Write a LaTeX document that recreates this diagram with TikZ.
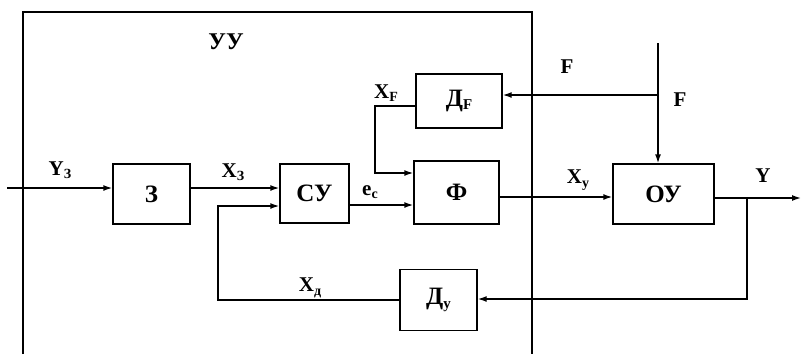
\documentclass[tikz,border=0pt]{standalone}
\usepackage{fontspec}
\setmainfont{Liberation Serif}
\usetikzlibrary{arrows.meta}
\newcommand{\lowidx}[1]{\raisebox{-0.35ex}{\fontsize{14}{14}\selectfont #1}}
\newcommand{\boxidx}[1]{\raisebox{-0.3ex}{\fontsize{15}{15}\selectfont #1}}
\begin{document}
\begin{tikzpicture}[x=1pt,y=-1pt,
  line width=1.4pt,
  blk/.style={draw, rectangle, inner sep=0pt, font=\fontsize{25}{25}\selectfont\bfseries},
  lbl/.style={inner sep=0pt, font=\fontsize{21}{21}\selectfont\bfseries},
  arr/.style={-{Latex[length=9pt,width=6pt]}}]
\useasboundingbox (0,0) rectangle (803,354);
% frame of УУ
\draw (23,354) -- (23,12) -- (532,12) -- (532,354);
% blocks
\node[blk, minimum width=77pt, minimum height=60pt] (Z) at (151.5,194) {З};
\node[blk, minimum width=69pt, minimum height=59pt] (SU) at (314.5,193.5) {СУ};
\node[blk, minimum width=86pt, minimum height=54pt] (DF) at (459,101) {Д\boxidx{F}};
\node[blk, minimum width=85pt, minimum height=63pt] (PHI) at (456.5,192.5) {Ф};
\node[blk, minimum width=101pt, minimum height=60pt] (OU) at (663.5,194) {ОУ};
\node[blk, minimum width=77pt, minimum height=61pt] (DY) at (438.5,300) {Д\boxidx{у}};
% coordinates
\coordinate (in) at (7,188);
\coordinate (fbc) at (218,206);
\coordinate (ecy) at (0,205);
\coordinate (xfa) at (375,106);
\coordinate (xfb) at (375,173);
\coordinate (xuy) at (0,197);
\coordinate (Ftop) at (658,43);
\coordinate (Fbr) at (658,95);
\coordinate (yy) at (0,198);
\coordinate (yout) at (801,198);
\coordinate (ybr) at (747,198);
\coordinate (ybot) at (747,299);
% connectors
\draw[arr] (in) -- (in -| Z.west);
\draw[arr] (Z.east |- in) -- (SU.west |- in);
\draw[arr] (DY.west) -| (fbc) -- (SU.west |- fbc);
\draw[arr] (SU.east |- ecy) -- (PHI.west |- ecy);
\draw[arr] (DF.west |- xfa) -- (xfa) -- (xfb) -- (PHI.west |- xfb);
\draw[arr] (PHI.east |- xuy) -- (OU.west |- xuy);
\draw[arr] (Ftop) -- (OU.north -| Ftop);
\draw[arr] (Fbr) -- (DF.east |- Fbr);
\draw[arr] (OU.east |- yy) -- (yout);
\draw[arr] (ybr) -- (ybot) -- (DY.east |- ybot);
% labels
\node[lbl, font=\fontsize{24}{24}\selectfont\bfseries] (lUU) at (226,42) {УУ};
\node[lbl] (lYz) at (60,170) {Y\lowidx{З}};
\node[lbl] (lXz) at (233,172) {X\lowidx{З}};
\node[lbl] (lec) at (370,192) {e\lowidx{c}};
\node[lbl] (lXF) at (386,93) {X\lowidx{F}};
\node[lbl] (lXy) at (578,180) {X\lowidx{у}};
\node[lbl] (lY) at (763,176) {Y};
\node[lbl] (lF1) at (567,67) {F};
\node[lbl] (lF2) at (680,100) {F};
\node[lbl] (lXd) at (310,288) {X\lowidx{д}};
\end{tikzpicture}
\end{document}
